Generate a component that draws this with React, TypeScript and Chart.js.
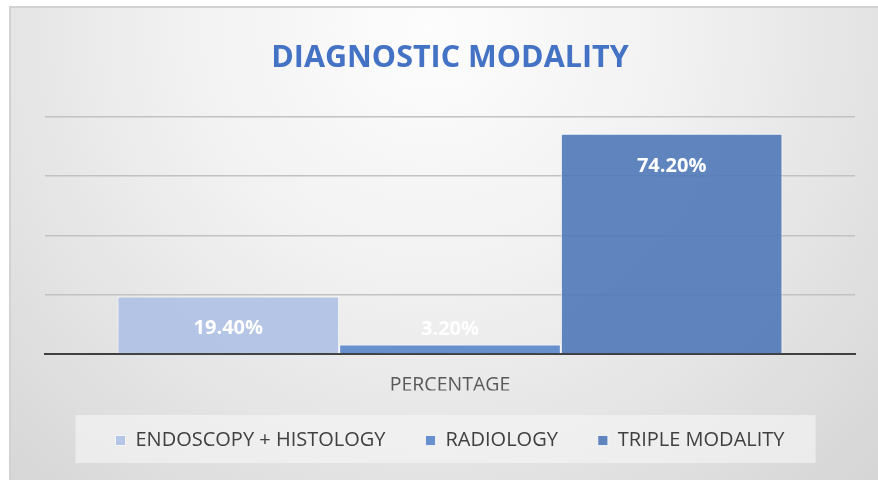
import React, { useEffect, useRef } from 'react';
import { Chart, registerables } from 'chart.js';

Chart.register(...registerables);

const categories = ['PERCENTAGE'];
const seriesNames = ['ENDOSCOPY + HISTOLOGY', 'RADIOLOGY', 'TRIPLE MODALITY'];
const endoscopyHistology = [19.4];
const radiology = [3.2];
const tripleModality = [74.2];
const seriesColors = ['rgba(176,193,228,0.92)', 'rgba(92,136,204,0.92)', 'rgba(80,121,184,0.9)'];
const yMin = 0;
const yMax = 80;
const yStep = 20;
const chartTitle = 'DIAGNOSTIC MODALITY';

const FONT = "'Open Sans', 'DejaVu Sans', sans-serif";

const backgroundPlugin = {
  id: 'bgPlugin',
  beforeDraw(chart: any) {
    const { ctx, width, height } = chart;
    ctx.save();
    ctx.fillStyle = '#ffffff';
    ctx.fillRect(0, 0, width, height);
    const g = ctx.createRadialGradient(430, 30, 0, 430, 30, 720);
    g.addColorStop(0, '#fdfdfd');
    g.addColorStop(0.35, '#f1f1f1');
    g.addColorStop(1, '#cfcfcf');
    ctx.fillStyle = g;
    ctx.fillRect(10, 7, width - 10, height - 7);
    ctx.strokeStyle = '#d2d2d2';
    ctx.lineWidth = 2;
    ctx.strokeRect(10, 7, width + 10, height + 10);
    const lg = chart.legend;
    if (lg && lg.legendHitBoxes && lg.legendHitBoxes.length) {
      const boxes = lg.legendHitBoxes;
      const first = boxes[0];
      const last = boxes[boxes.length - 1];
      const l = first.left - 40;
      const r = last.left + last.width + 31;
      const cy = first.top + first.height / 2 - 1.5;
      ctx.fillStyle = 'rgba(246,246,246,0.6)';
      ctx.fillRect(l, cy - 24, r - l, 48);
    }
    ctx.restore();
  },
};

const labelPlugin = {
  id: 'valueLabels',
  afterDatasetsDraw(chart: any) {
    const { ctx } = chart;
    ctx.save();
    ctx.font = `bold 20px ${FONT}`;
    ctx.fillStyle = '#ffffff';
    ctx.textAlign = 'center';
    ctx.textBaseline = 'alphabetic';
    chart.data.datasets.forEach((ds: any, i: number) => {
      const meta = chart.getDatasetMeta(i);
      meta.data.forEach((el: any, j: number) => {
        const v = ds.data[j];
        const capsCenter = Math.min(el.y + 31, el.base - 25);
        ctx.fillText(v.toFixed(2) + '%', el.x, capsCenter + 7);
      });
    });
    ctx.restore();
  },
};

export default function App() {
  const ref = useRef<HTMLCanvasElement>(null);
  useEffect(() => {
    if (!ref.current) return;
    const chart = new Chart(ref.current, {
      type: 'bar',
      data: {
        labels: categories,
        datasets: [
          { label: seriesNames[0], data: endoscopyHistology, backgroundColor: seriesColors[0] },
          { label: seriesNames[1], data: radiology, backgroundColor: seriesColors[1] },
          { label: seriesNames[2], data: tripleModality, backgroundColor: seriesColors[2] },
        ].map((d) => ({
          ...d,
          borderColor: 'rgba(255,255,255,0.75)',
          borderWidth: 1,
          categoryPercentage: 0.821,
          barPercentage: 1,
        })),
      },
      options: {
        responsive: false,
        animation: false,
        layout: { padding: { left: 45, right: 23, top: 0, bottom: 19.5 } },
        plugins: {
          title: {
            display: true,
            text: chartTitle,
            color: '#4472C4',
            font: { family: FONT, size: 30.5, weight: 'bold', lineHeight: 1.2 },
            padding: { top: 40, bottom: 40 },
          },
          legend: {
            position: 'bottom',
            labels: {
              boxWidth: 10,
              boxHeight: 10,
              padding: 40,
              color: '#404040',
              font: { family: FONT, size: 20 },
            },
          },
          tooltip: { enabled: false },
        },
        scales: {
          x: {
            grid: { display: false, drawTicks: false, tickLength: 0 },
            border: { display: true, color: '#404040', width: 2 },
            ticks: { color: '#595959', font: { family: FONT, size: 19.5 }, padding: 20 },
            afterFit: (s: any) => {
              s.height = 36.5;
            },
          },
          y: {
            min: yMin,
            max: yMax,
            ticks: { stepSize: yStep, display: false },
            grid: { color: '#c2c2c2', lineWidth: 1.5, drawTicks: false, tickLength: 0 },
            border: { display: false },
          },
        },
      } as any,
      plugins: [backgroundPlugin, labelPlugin],
    });
    return () => chart.destroy();
  }, []);
  return (
    <div style={{ position: 'absolute', left: 0, top: 0, width: 878, height: 480 }}>
      <canvas ref={ref} width={878} height={480} style={{ display: 'block' }} />
    </div>
  );
}
